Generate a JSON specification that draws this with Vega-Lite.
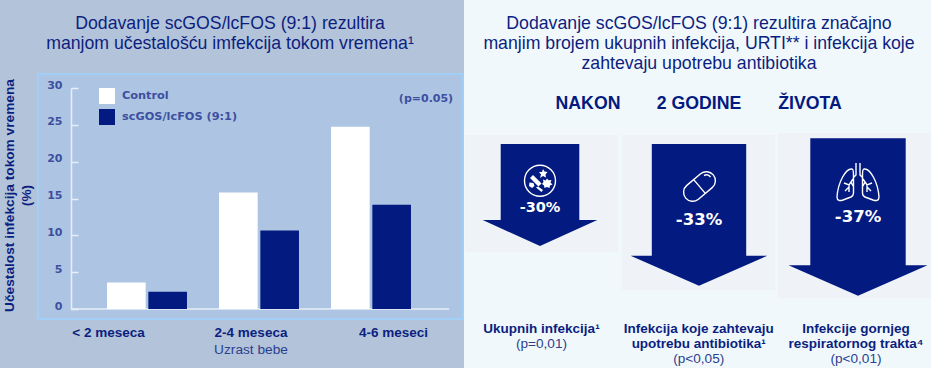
{
"$schema":"https://vega.github.io/schema/vega-lite/v6.json",
"width":931,"height":368,"padding":0,
"autosize":{"type":"fit","contains":"padding"},
"background":"#f1f8fc",
"config":{"view":{"stroke":null},"text":{"font":"Liberation Sans"}},
"resolve":{"scale":{"x":"independent","y":"independent","color":"independent","shape":"independent"}},
"layer":[
{"data":{"values":[{"panel":"levo"}]},
 "mark":{"type":"rect","color":"#b3c3d9"},
 "encoding":{"x":{"field":"panel","type":"nominal","axis":null,"scale":{"domain":["levo"],"range":[0,464],"paddingInner":0,"paddingOuter":0}}}},
{"data":{"values":[{"panel":"grafikon","od":-1.36,"do":31.9}]},
 "mark":{"type":"rect","color":"#adc5e3","stroke":"#9fd2ff","strokeWidth":1.5},
 "encoding":{
  "x":{"field":"panel","type":"nominal","axis":null,"scale":{"domain":["grafikon"],"range":[38,463],"paddingInner":0,"paddingOuter":0}},
  "y":{"field":"od","type":"quantitative","axis":null,"scale":{"domain":[0,30],"range":[309,88]}},
  "y2":{"field":"do"}}},
{"data":{"values":[{"od":0,"do":1,"y":0}]},
 "mark":{"type":"rule","color":"#e6eef8","strokeWidth":1.5},
 "encoding":{
  "x":{"field":"od","type":"quantitative","axis":null,"scale":{"domain":[0,1],"range":[71,449]}},
  "x2":{"field":"do"},
  "y":{"field":"y","type":"quantitative","axis":null,"scale":{"domain":[0,30],"range":[309,88]}}}},
{"data":{"values":[
  {"uzrast":"< 2 meseca","grupa":"Control","v":3.6},
  {"uzrast":"< 2 meseca","grupa":"scGOS/lcFOS (9:1)","v":2.35},
  {"uzrast":"2-4 meseca","grupa":"Control","v":15.8},
  {"uzrast":"2-4 meseca","grupa":"scGOS/lcFOS (9:1)","v":10.65},
  {"uzrast":"4-6 meseci","grupa":"Control","v":24.75},
  {"uzrast":"4-6 meseci","grupa":"scGOS/lcFOS (9:1)","v":14.15}]},
 "mark":{"type":"bar"},
 "encoding":{
  "x":{"field":"uzrast","type":"nominal","axis":null,"scale":{"domain":["< 2 meseca","2-4 meseca","4-6 meseci"],"range":[91,427],"paddingInner":0.286,"paddingOuter":0.143}},
  "xOffset":{"field":"grupa","type":"nominal","scale":{"domain":["Control","scGOS/lcFOS (9:1)"],"paddingInner":0.065,"paddingOuter":0}},
  "y":{"field":"v","type":"quantitative","stack":null,"scale":{"domain":[0,30],"range":[309,88]},
   "axis":{"values":[0,5,10,15,20,25,30],"orient":"left","offset":-71,"zindex":1,"grid":false,
    "domain":true,"domainColor":"#e6eef8","domainWidth":1.5,"ticks":true,"tickColor":"#e6eef8","tickSize":-7,"tickWidth":1.5,
    "labelFont":"DejaVu Sans","labelFontWeight":"bold","labelFontSize":11,"labelColor":"#3d4f9f","labelPadding":16,"labelOffset":-3,
    "title":["Učestalost infekcija tokom vremena","(%)"],"titleFont":"Liberation Sans","titleFontWeight":"bold","titleFontSize":13.7,"titleColor":"#0b1f80",
    "titleX":-58,"titleY":195,"titleBaseline":"alphabetic","titleAlign":"center","titleAngle":-90,"titleLineHeight":17}},
  "color":{"field":"grupa","type":"nominal","scale":{"domain":["Control","scGOS/lcFOS (9:1)"],"range":["#ffffff","#031a80"]},
   "legend":{"orient":"none","legendX":99,"legendY":88,"title":null,"symbolType":"square","symbolSize":256,"symbolStrokeWidth":0,"rowPadding":5,"labelOffset":7,
    "labelFont":"DejaVu Sans","labelFontWeight":"bold","labelFontSize":11.3,"labelColor":"#3d4f9f","zindex":1}}}},
{"data":{"values":[{"uzrast":"< 2 meseca"},{"uzrast":"2-4 meseca"},{"uzrast":"4-6 meseci"}]},
 "mark":{"type":"point","opacity":0},
 "encoding":{"x":{"field":"uzrast","type":"nominal","scale":{"type":"point","domain":["< 2 meseca","2-4 meseca","4-6 meseci"],"range":[108,393],"padding":0},
  "axis":{"orient":"bottom","offset":-46,"zindex":1,"domain":false,"ticks":false,"grid":false,"labelAngle":0,"labelFlush":false,"labelOverlap":false,"labelPadding":3,
   "labelFont":"Liberation Sans","labelFontWeight":"bold","labelFontSize":13.5,"labelColor":"#0b1f80",
   "title":"Uzrast bebe","titleFont":"Liberation Sans","titleFontWeight":"normal","titleFontSize":13.7,"titleColor":"#2b3f8f","titleY":27,"titleBaseline":"middle","titleAnchor":"middle"}}}},
{"data":{"values":[{"t":"(p=0.05)"}]},
 "mark":{"type":"text","font":"DejaVu Sans","fontWeight":"bold","fontSize":11,"color":"#3d4f9f","dx":-39.5,"dy":-85,"baseline":"middle"},
 "encoding":{"text":{"field":"t"}}},
{"data":{"values":[
  {"panel":"levo","t":"Dodavanje scGOS/lcFOS (9:1) rezultira\nmanjom učestalošću imfekcija tokom vremena¹"},
  {"panel":"desno","t":"Dodavanje scGOS/lcFOS (9:1) rezultira značajno\nmanjim brojem ukupnih infekcija, URTI** i infekcija koje\nzahtevaju upotrebu antibiotika"}]},
 "mark":{"type":"text","fontSize":17.7,"color":"#0b1f80","lineBreak":"\n","lineHeight":20,"baseline":"alphabetic","dy":-155},
 "encoding":{"x":{"field":"panel","type":"nominal","axis":null,"scale":{"type":"point","domain":["levo","desno"],"range":[230,699],"padding":0}},"text":{"field":"t"}}},
{"data":{"values":[{"t":"NAKON"},{"t":"2 GODINE"},{"t":"ŽIVOTA"}]},
 "mark":{"type":"text","fontSize":17.7,"fontWeight":"bold","color":"#031a80","baseline":"middle","dy":-80},
 "encoding":{"x":{"field":"t","type":"nominal","axis":null,"scale":{"type":"point","domain":["NAKON","2 GODINE","ŽIVOTA"],"range":[588,810],"padding":0}},"text":{"field":"t"}}},
{"data":{"values":[{"k":"Ukupnih infekcija","v":-30},{"k":"Antibiotici","v":-33},{"k":"URTI","v":-37}]},
 "mark":{"type":"point","filled":true,"size":4,"opacity":1,"color":"#eff3f8","strokeWidth":0},
 "encoding":{
  "x":{"field":"k","type":"nominal","axis":null,"scale":{"type":"point","domain":["Ukupnih infekcija","Antibiotici","URTI"],"range":[540,858],"padding":0}},
  "shape":{"field":"k","type":"nominal","legend":null,"scale":{"domain":["Ukupnih infekcija","Antibiotici","URTI"],"range":[
   "M-75,-49H78V68H-75Z","M-77,-49H76V106H-77Z","M-80,-51H73V114H-80Z"]}}}},
{"data":{"values":[{"k":"Ukupnih infekcija","v":-30},{"k":"Antibiotici","v":-33},{"k":"URTI","v":-37}]},
 "mark":{"type":"point","filled":true,"size":4,"opacity":1,"color":"#031a80","strokeWidth":0},
 "encoding":{
  "x":{"field":"k","type":"nominal","axis":null,"scale":{"type":"point","domain":["Ukupnih infekcija","Antibiotici","URTI"],"range":[540,858],"padding":0}},
  "shape":{"field":"k","type":"nominal","legend":null,"scale":{"domain":["Ukupnih infekcija","Antibiotici","URTI"],"range":[
   "M-39.3,-40H39.3V36H57.3L0,62L-57.3,36H-39.3Z",
   "M-47.2,-40H47.2V71.7H68.4L0,101.7L-68.4,71.7H-47.2Z",
   "M-47.7,-45.7H47.7V81.3H69.5L0,111.7L-69.5,81.3H-47.7Z"]}}}},
{"data":{"values":[{"k":"Ukupnih infekcija"},{"k":"Antibiotici"},{"k":"URTI"}]},
 "mark":{"type":"point","filled":false,"size":4,"opacity":1,"stroke":"#ffffff","strokeWidth":1.4},
 "encoding":{
  "x":{"field":"k","type":"nominal","axis":null,"scale":{"type":"point","domain":["Ukupnih infekcija","Antibiotici","URTI"],"range":[540,858],"padding":0}},
  "shape":{"field":"k","type":"nominal","legend":null,"scale":{"domain":["Ukupnih infekcija","Antibiotici","URTI"],"range":[
   "M15.5,-3.3A15.5,15.5 0 1 1 -15.5,-3.3A15.5,15.5 0 1 1 15.5,-3.3Z",
   "M1.6,-10.2A9,9 0 0 1 13.2,3.6L-0.6,15.2A9,9 0 0 1 -12.2,1.4ZM-5.3,-4.4L6.3,9.4M5,-8.5Q9,-10.5 11.5,-7",
   "M-2,-21V-9L-5,-6M2,-21V-9L5,-6M-6,-15C-12,-16 -20,-2 -21,13C-21,17 -18,17 -15,16L-7,13C-5,12 -4.5,11 -4.5,9L-4.5,-9C-4.5,-13 -5,-15 -6,-15ZM6,-15C12,-16 20,-2 21,13C21,17 18,17 15,16L7,13C5,12 4.5,11 4.5,9L4.5,-9C4.5,-13 5,-15 6,-15ZM-5,-5L-9,1L-14,-1M-9,1L-9,8M-9,3L-13,7M-7,-2L-5,2M5,-5L9,1L14,-1M9,1L9,8M9,3L13,7M7,-2L5,2"]}}}},
{"data":{"values":[{"k":"Ukupnih infekcija"}]},
 "mark":{"type":"point","filled":true,"size":4,"opacity":1,"color":"#ffffff","strokeWidth":0,
  "shape":"M3,-15L4.5,-12.5L7.5,-12L5.5,-9.5L6,-6.5L3,-8L0,-6L1,-9.5L-1,-12L2,-12ZM7,-5.5L8.5,-3.7L11.5,-4L10.5,-1.5L12.5,0.5L10,1.5L9.5,4L7,3L4.5,4L4,1.5L2,0L3.5,-2L3,-4.5L5.5,-3.5ZM-7,-9L1.6,-0.6L-1.6,2.6L-10,-6ZM-10.5,-1.5L-6.5,-1L-5.5,2L-8,4L-11,2ZM-4,3.5L-2,2.5L3,6L1.5,8Z"},
 "encoding":{"x":{"field":"k","type":"nominal","axis":null,"scale":{"type":"point","domain":["Ukupnih infekcija"],"range":[540,540],"padding":0}}}},
{"data":{"values":[{"k":"Ukupnih infekcija","t":"-30%"}]},
 "mark":{"type":"text","font":"DejaVu Sans","fontWeight":"bold","fontSize":14.5,"color":"#ffffff","baseline":"middle","dy":24},
 "encoding":{"x":{"field":"k","type":"nominal","axis":null,"scale":{"type":"point","domain":["Ukupnih infekcija"],"range":[540,540],"padding":0}},"text":{"field":"t"}}},
{"data":{"values":[{"k":"Antibiotici","t":"-33%"}]},
 "mark":{"type":"text","font":"DejaVu Sans","fontWeight":"bold","fontSize":16.5,"color":"#ffffff","baseline":"middle","dy":36},
 "encoding":{"x":{"field":"k","type":"nominal","axis":null,"scale":{"type":"point","domain":["Antibiotici"],"range":[699,699],"padding":0}},"text":{"field":"t"}}},
{"data":{"values":[{"k":"URTI","t":"-37%"}]},
 "mark":{"type":"text","font":"DejaVu Sans","fontWeight":"bold","fontSize":16.5,"color":"#ffffff","baseline":"middle","dy":33},
 "encoding":{"x":{"field":"k","type":"nominal","axis":null,"scale":{"type":"point","domain":["URTI"],"range":[858,858],"padding":0}},"text":{"field":"t"}}},
{"data":{"values":[
  {"k":"a","t":"Ukupnih infekcija¹"},
  {"k":"b","t":"Infekcija koje zahtevaju\nupotrebu antibiotika¹"},
  {"k":"c","t":"Infekcije gornjeg\nrespiratornog trakta⁴"}]},
 "mark":{"type":"text","fontSize":13.5,"fontWeight":"bold","color":"#0b1f80","lineBreak":"\n","lineHeight":15.3,"baseline":"alphabetic","dy":149},
 "encoding":{"x":{"field":"k","type":"nominal","axis":null,"scale":{"type":"point","domain":["a","b","c"],"range":[541.5,856],"padding":0}},"text":{"field":"t"}}},
{"data":{"values":[{"k":"a","t":"(p=0,01)","redova":1},{"k":"b","t":"(p<0,05)","redova":2},{"k":"c","t":"(p<0,01)","redova":2}]},
 "mark":{"type":"text","fontSize":13.6,"color":"#2b3f8f","baseline":"middle"},
 "encoding":{
  "x":{"field":"k","type":"nominal","axis":null,"scale":{"type":"point","domain":["a","b","c"],"range":[541.5,856],"padding":0}},
  "y":{"field":"redova","type":"ordinal","axis":null,"scale":{"type":"point","domain":[1,2],"range":[344,359],"padding":0}},
  "text":{"field":"t"}}}
]}
